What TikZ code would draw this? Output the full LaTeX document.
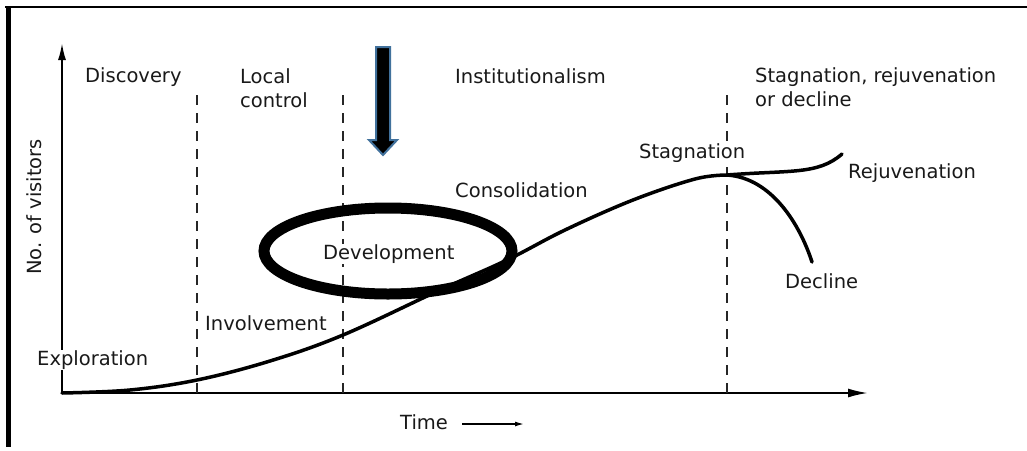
\documentclass[tikz,border=0pt]{standalone}
\usepackage{fontspec}
\setmainfont{DejaVu Sans}
\usetikzlibrary{arrows.meta}
\definecolor{arrowedge}{RGB}{65,113,156}
\begin{document}
\begin{tikzpicture}[x=1pt,y=-1pt,
  lbl/.style={font=\fontsize{19.5}{24}\selectfont, text=black!90, inner sep=1pt, anchor=west, align=left},
  gap/.style={fill=white},
  axis/.style={line width=2pt},
  divider/.style={line width=1.8pt, dash pattern=on 10pt off 8pt, black!85},
  curvestyle/.style={line width=3.5pt, line cap=round},
  ring/.style={line width=11pt, draw=black}]
\useasboundingbox (0,0) rectangle (1027,450);
\fill[white] (0,0) rectangle (1027,450);
% frame
\draw[line width=2.5pt] (5,7) -- (1027,7);
\draw[line width=5pt] (8,6) -- (8,447);
% axes
\coordinate (O) at (62,393);
\coordinate (ytop) at (62,43);
\coordinate (xend) at (868,393);
\draw[axis, -{Latex[length=17pt,width=8pt]}] (O) -- (ytop);
\draw[axis, -{Latex[length=20pt,width=9pt]}] (O) -- (xend);
% dividers
\coordinate (d1t) at (197,95); \coordinate (d1b) at (197,393);
\coordinate (d2t) at (343,95); \coordinate (d2b) at (343,393);
\coordinate (d3t) at (727,95); \coordinate (d3b) at (727,393);
\draw[divider] (d1t) -- (d1b);
\draw[divider] (d2t) -- (d2b);
\draw[divider] (d3t) -- (d3b);
% main curve
\coordinate (peak) at (727,175);
\draw[curvestyle] plot[smooth, tension=0.6] coordinates {(62,393) (130,390) (197,380) (270,361) (343,335) (440,290) (507,260) (565,230) (633,200) (695,179) (727,175)};
\coordinate (rej) at (842,154);
\coordinate (dec) at (812,262);
\draw[curvestyle] (peak) .. controls (790,170) and (818,175) .. (rej);
\draw[curvestyle] (peak) .. controls (772,178) and (800,225) .. (dec);
% labels
\node[lbl] (discovery) at (84,77) {Discovery};
\node[lbl] (local) at (239,88) {Local\\control};
\node[lbl] (inst) at (454,76) {Institutionalism};
\node[lbl] (stagrej) at (754,87) {Stagnation, rejuvenation\\or decline};
\node[lbl, anchor=center, rotate=90] (yl) at (34,207) {No. of visitors};
\node[lbl, gap] (explo) at (36,360) {Exploration};
\node[lbl, gap] (invol) at (204,323) {Involvement};
\node[lbl, gap] (devel) at (322,254) {Development};
\node[lbl] (conso) at (454,190) {Consolidation};
\node[lbl, gap] (stag) at (638,153) {Stagnation};
\node[lbl] (rejl) at (847,173) {Rejuvenation};
\node[lbl] (decl) at (784,281) {Decline};
\node[lbl] (time) at (399,422) {Time};
\coordinate (ta) at (462,424);
\coordinate (tb) at (524,424);
\draw[line width=1.4pt, -{Latex[length=9pt,width=5pt]}] (ta) -- (tb);
% highlight ellipse
\draw[ring] (388,251) ellipse [x radius=124, y radius=43];
% block arrow
\draw[line width=2pt, draw=arrowedge, fill=black, line join=miter]
  (376,47) -- (390,47) -- (390,140) -- (397,140) -- (383,155) -- (369,140) -- (376,140) -- cycle;
\end{tikzpicture}
\end{document}
